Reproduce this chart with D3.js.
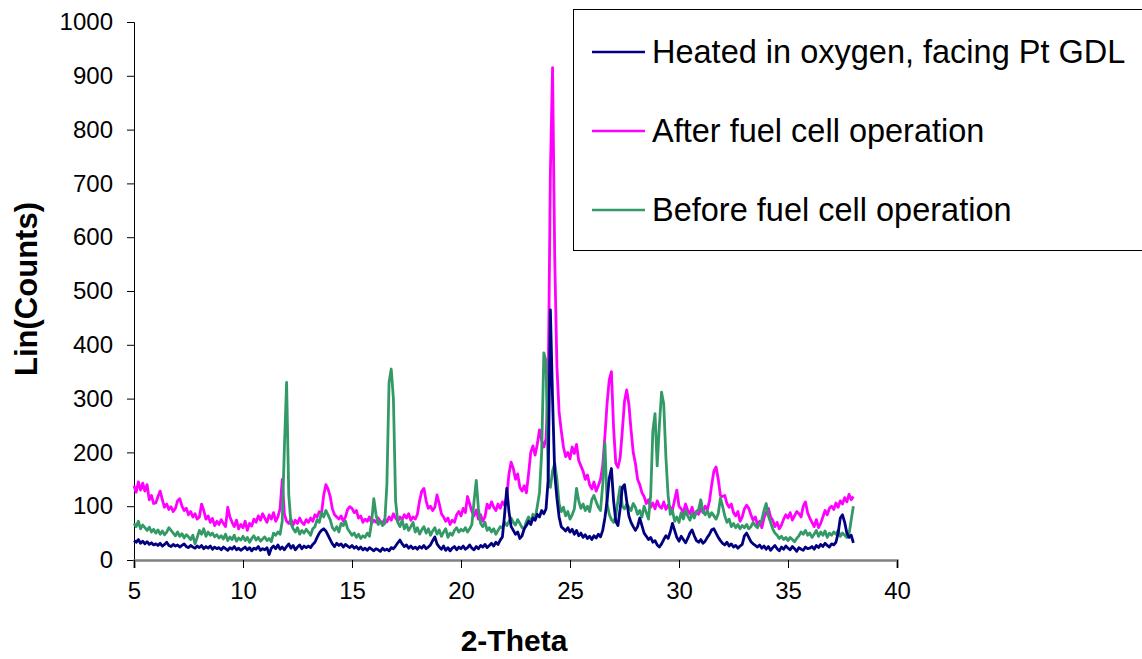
<!DOCTYPE html>
<html>
<head>
<meta charset="utf-8">
<script src="https://cdn.jsdelivr.net/npm/d3@7.9.0/dist/d3.min.js"></script>
<style>
  body { margin: 0; background: #fff; }
  svg { display: block; font-family: "Liberation Sans", Arial, sans-serif; }
</style>
</head>
<body>
<svg id="chart" width="1142" height="659"></svg>
<script>
// 2-theta runs from 5.0 to 38.0 in steps of 0.1
const thetaStart = 5.0;
const thetaStep = 0.1;

const seriesNames = [
  'Heated in oxygen, facing Pt GDL',
  'After fuel cell operation',
  'Before fuel cell operation'
];

// Heated in oxygen, facing Pt GDL
const heated = [
  36, 33, 38, 31, 35, 30, 34, 29, 32, 28,
  30, 27, 31, 26, 29, 33, 27, 25, 29, 26,
  28, 24, 27, 30, 25, 23, 27, 24, 22, 26,
  23, 27, 21, 25, 22, 26, 20, 24, 21, 23,
  19, 24, 21, 18, 23, 20, 25, 19, 22, 18,
  21, 24, 19, 23, 17, 22, 20, 25, 18, 21,
  19, 23, 10, 22, 26, 21, 28, 20, 24, 19,
  25, 30, 22, 27, 19, 24, 28, 21, 26, 23,
  26, 23, 29, 33, 42, 50, 55, 58, 54, 46,
  38, 30, 25, 31, 27, 30, 24, 29, 26, 23,
  27, 22, 25, 20, 24, 19, 22, 18, 23, 20,
  17, 21, 19, 16, 22, 18, 20, 17, 23, 21,
  26, 32, 37, 30, 25, 28, 22, 26, 21, 24,
  20, 25, 22, 27, 21, 24, 28, 36, 43, 30,
  24, 20, 26, 18, 23, 17, 22, 25, 19, 24,
  21, 26, 20, 23, 28, 22, 19, 25, 21, 27,
  24, 29, 23, 27, 31, 26, 33, 29, 37, 43,
  85, 133, 90, 62, 55, 48, 52, 40, 45, 58,
  64, 72, 66, 78, 74, 85, 80, 92, 86, 95,
  150, 465, 300, 160, 115, 80, 62, 58, 54, 60,
  52, 57, 48, 55, 45, 50, 42, 47, 40, 44,
  38, 45, 41, 48, 43, 55, 78, 110, 152, 170,
  110, 72, 64, 95, 135, 140, 110, 82, 70, 62,
  55, 62, 78, 64, 50, 44, 38, 42, 33, 36,
  28, 24, 30, 38, 45, 40, 52, 68, 55, 42,
  35, 44, 38, 32, 40, 50, 56, 45, 36, 33,
  38, 31, 35, 42, 48, 56, 58, 50, 42, 36,
  31, 28, 33, 26, 30, 24, 27, 22, 26, 29,
  45, 50, 42, 34, 30, 27, 24, 28, 22, 26,
  20, 25, 18, 23, 27, 21, 17, 24, 20, 26,
  22, 19, 25, 21, 16, 23, 20, 18, 24, 21,
  22, 25, 20, 27, 23, 29, 25, 31, 27, 24,
  30, 28, 33, 50, 78, 84, 70, 50, 42, 46,
  32
];

// After fuel cell operation
const after = [
  138, 126, 145, 130, 143, 128, 140, 112, 120, 105,
  106, 118, 128, 112, 98, 104, 94, 99, 90, 96,
  110, 114, 100, 92, 96, 84, 90, 80, 86, 76,
  80, 104, 92, 76, 82, 70, 77, 64, 72, 66,
  75, 68, 62, 98, 80, 70, 62, 74, 58, 66,
  60, 72, 55, 68, 63, 76, 70, 82, 74, 86,
  78, 70, 84, 76, 88, 72, 80, 95, 150, 85,
  72, 68, 76, 65, 74, 68, 78, 70, 66, 75,
  70, 78, 72, 84, 80, 90, 86, 120, 140, 132,
  118, 95, 84, 80, 76, 82, 72, 80, 94, 99,
  96, 88, 92, 78, 82, 70, 76, 72, 80, 68,
  74, 70, 78, 72, 68, 76, 71, 80, 74, 86,
  78, 72, 80, 75, 84, 78, 86, 74, 80, 76,
  85, 110, 128, 133, 110, 96, 100, 92, 98, 121,
  105, 86, 80, 72, 78, 66, 74, 70, 84, 90,
  82, 96, 88, 118, 104, 90, 82, 93, 76, 84,
  72, 80, 104, 96, 108, 98, 92, 104, 96, 108,
  102, 118, 160, 182, 170, 150, 160, 135, 128, 138,
  125, 160, 200, 212, 195, 215, 242, 222, 210, 225,
  320, 720, 915, 560, 360, 275, 240, 210, 192, 200,
  188, 210, 198, 215, 185, 175, 165, 150, 158, 140,
  132, 145, 128, 138, 150, 175, 230, 290, 335, 350,
  245, 180, 172, 190, 240, 295, 316, 290, 242, 200,
  180, 150, 140, 125, 118, 105, 112, 98, 106, 95,
  110, 100, 96, 108, 94, 102, 98, 93, 112, 130,
  100, 95, 88, 104, 92, 86, 98, 82, 90, 85,
  96, 88, 100, 94, 110, 140, 165, 173, 150, 120,
  118, 120, 105, 98, 104, 88, 82, 90, 72, 80,
  95, 102, 96, 84, 74, 80, 66, 72, 60, 78,
  88, 96, 80, 74, 62, 70, 58, 65, 76, 84,
  78, 88, 74, 82, 90, 86, 80, 100, 108, 88,
  78, 70, 62, 75, 60, 68, 80, 92, 84, 96,
  100, 94, 106, 98, 110, 104, 116, 108, 122, 112,
  118
];

// Before fuel cell operation
const before = [
  68, 62, 72, 58, 65, 60, 55, 61, 52, 57,
  50, 56, 48, 54, 47, 52, 60, 55, 50, 45,
  52, 44, 49, 41, 47, 43, 38, 46, 30, 42,
  55, 48, 58, 44, 52, 46, 50, 43, 47, 41,
  45, 39, 48, 36, 43, 38, 46, 35, 41, 37,
  44, 36, 42, 33, 40, 45, 37, 42, 35, 39,
  43, 36, 40, 34, 50, 46, 52, 48, 72, 210,
  330, 120, 68, 58, 52, 60, 48, 55, 50, 57,
  52, 46, 58, 62, 75, 70, 88, 80, 92, 84,
  75, 60, 55, 62, 52, 68, 64, 72, 58, 52,
  46, 50, 42, 48, 40, 45, 42, 50, 44, 70,
  114, 85, 66, 72, 64, 68, 140, 330, 355, 300,
  110, 70, 62, 74, 58, 66, 55, 62, 70, 52,
  60, 48, 56, 62, 50, 58, 46, 54, 60, 48,
  56, 44, 52, 58, 42, 50, 46, 55, 60, 52,
  57, 54, 60, 52, 58, 66, 110, 148, 95, 68,
  62, 70, 55, 60, 52, 58, 48, 55, 62, 60,
  70, 64, 72, 78, 70, 65, 75, 68, 60, 58,
  72, 80, 68, 85, 76, 100, 125, 200, 385, 370,
  150, 135, 165, 180, 150, 105, 90, 98, 82, 90,
  76, 84, 95, 133, 110, 96, 104, 92, 100, 90,
  112, 120, 108, 98, 92, 140, 217, 105, 85, 75,
  70, 82, 110, 136, 100, 95, 104, 98, 92, 105,
  98, 85, 92, 80, 100, 88, 76, 120, 240, 272,
  175, 250, 312, 290, 190, 120, 85, 92, 72, 80,
  70, 88, 76, 92, 82, 74, 86, 78, 90, 94,
  112, 90, 84, 92, 80, 88, 82, 76, 86, 115,
  100, 82, 70, 76, 62, 68, 60, 66, 58, 64,
  60, 66, 58, 62, 70, 64, 60, 68, 75, 92,
  105, 82, 70, 58, 50, 46, 40, 44, 38, 42,
  36, 42, 38, 34, 40, 45, 52, 48, 55, 46,
  50, 42, 48, 55, 44, 52, 46, 54, 42, 50,
  46, 52, 48, 55, 44, 50, 46, 42, 48, 75,
  100
];

const xTicks = [5, 10, 15, 20, 25, 30, 35, 40];
const yTicks = [0, 100, 200, 300, 400, 500, 600, 700, 800, 900, 1000];

const colors = ['#000080', '#FF00FF', '#339966'];

const svg = d3.select('#chart');
svg.append('rect').attr('width', 1142).attr('height', 659).attr('fill', '#fff');

// plot area in pixels
const x = d3.scaleLinear().domain([5, 40]).range([134, 897]);
const y = d3.scaleLinear().domain([0, 1000]).range([560, 22]);

// y axis
const yAxis = svg.append('g')
  .attr('transform', `translate(${x(5)},0)`)
  .call(d3.axisLeft(y).tickValues(yTicks).tickFormat(d3.format('d')).tickSize(7).tickPadding(14));
yAxis.select('.domain').attr('stroke', '#000').attr('stroke-width', 1);
yAxis.selectAll('.tick line').attr('stroke', '#000');
yAxis.selectAll('text').attr('font-size', 24).attr('fill', '#000')
  .attr('font-family', '"Liberation Sans", Arial, sans-serif');

// x axis
const xAxis = svg.append('g')
  .attr('transform', `translate(0,${y(0)})`)
  .call(d3.axisBottom(x).tickValues(xTicks).tickSize(8).tickPadding(14));
xAxis.select('.domain').attr('stroke', '#808080').attr('stroke-width', 2.5);
xAxis.selectAll('.tick line').attr('stroke', '#000');
xAxis.selectAll('text').attr('font-size', 24).attr('fill', '#000')
  .attr('font-family', '"Liberation Sans", Arial, sans-serif');

// axis titles
svg.append('text')
  .attr('x', 514).attr('y', 651)
  .attr('text-anchor', 'middle')
  .attr('font-size', 30).attr('font-weight', 'bold')
  .text('2-Theta');

svg.append('text')
  .attr('transform', 'translate(37,289) rotate(-90)')
  .attr('text-anchor', 'middle')
  .attr('font-size', 31).attr('font-weight', 'bold')
  .text('Lin(Counts)');

// series lines
const line = d3.line()
  .x((d, i) => x(thetaStart + i * thetaStep))
  .y(d => y(d));

const allSeries = [heated, after, before];
const drawOrder = [1, 2, 0]; // navy ends up on top, like the original

drawOrder.forEach(idx => {
  svg.append('path')
    .datum(allSeries[idx])
    .attr('d', line)
    .attr('fill', 'none')
    .attr('stroke', colors[idx])
    .attr('stroke-width', 2.8)
    .attr('stroke-linejoin', 'round');
});

// legend box
const legend = svg.append('g');
legend.append('rect')
  .attr('x', 573.5).attr('y', 9.5)
  .attr('width', 570).attr('height', 241)
  .attr('fill', '#fff')
  .attr('stroke', '#000').attr('stroke-width', 1);

seriesNames.forEach((name, idx) => {
  const rowY = 52 + idx * 79;
  legend.append('line')
    .attr('x1', 592).attr('x2', 645)
    .attr('y1', rowY).attr('y2', rowY)
    .attr('stroke', colors[idx]).attr('stroke-width', 2.5);
  legend.append('text')
    .attr('x', 652).attr('y', rowY)
    .attr('dy', '0.35em')
    .attr('font-size', 32.5)
    .attr('fill', '#000')
    .text(name);
});
</script>
</body>
</html>
